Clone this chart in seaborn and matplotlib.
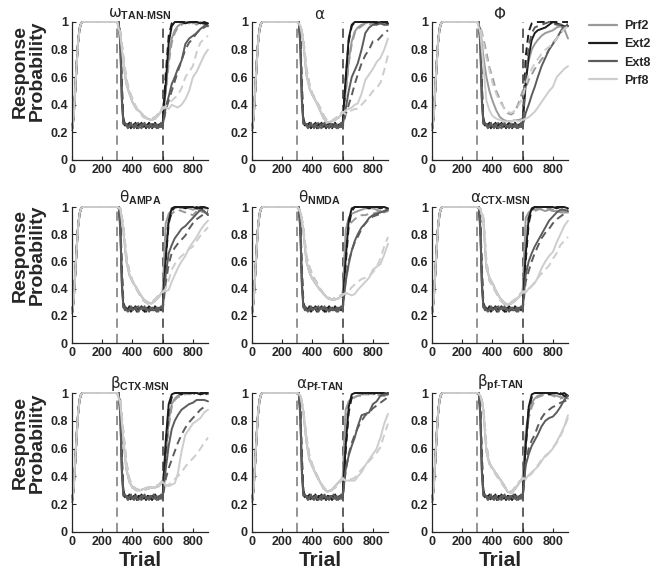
import numpy as np
import pandas as pd
import matplotlib
matplotlib.use('Agg')
import matplotlib.pyplot as plt
import seaborn as sns

# trial grids
ACQ_X = [0, 10, 20, 30, 40, 50, 60, 70, 300]
EXT_X = list(range(310, 601, 10))
PRF_EXT_X = [320, 340, 360, 380, 400, 425, 450, 475, 500, 525, 550, 575, 600]
REACQ_X = [620, 640, 660, 680, 700, 725, 750, 775, 800, 825, 850, 875, 900]

# acquisition phase (same for every curve)
ACQ_Y = [0.22, 0.3, 0.48, 0.68, 0.85, 0.95, 0.99, 1.0, 1.0]

# extinction for the Ext conditions (fast drop, flat at ~0.25)
EXT2_S_DROP = [0.99, 0.85, 0.45, 0.27, 0.25, 0.26, 0.24, 0.27, 0.25, 0.24, 0.26, 0.25, 0.23, 0.26, 0.25,
               0.27, 0.24, 0.25, 0.23, 0.26, 0.25, 0.24, 0.26, 0.25, 0.27, 0.24, 0.25, 0.26, 0.24, 0.26]
EXT2_D_DROP = [1.0, 0.9, 0.55, 0.3, 0.26, 0.24, 0.26, 0.25, 0.23, 0.26, 0.24, 0.27, 0.25, 0.24, 0.26,
               0.25, 0.26, 0.23, 0.25, 0.24, 0.27, 0.25, 0.23, 0.25, 0.24, 0.26, 0.25, 0.24, 0.26, 0.25]
EXT8_S_DROP = [0.99, 0.82, 0.42, 0.26, 0.27, 0.25, 0.23, 0.25, 0.27, 0.24, 0.25, 0.26, 0.24, 0.23, 0.25,
               0.26, 0.25, 0.27, 0.24, 0.25, 0.23, 0.26, 0.25, 0.24, 0.25, 0.26, 0.23, 0.25, 0.27, 0.25]
EXT8_D_DROP = [1.0, 0.88, 0.5, 0.28, 0.24, 0.26, 0.25, 0.24, 0.26, 0.25, 0.23, 0.25, 0.26, 0.27, 0.24,
               0.23, 0.26, 0.25, 0.26, 0.24, 0.25, 0.26, 0.24, 0.27, 0.25, 0.23, 0.26, 0.24, 0.25, 0.24]

# per panel: prf extinction (on PRF_EXT_X) and reacquisition (on REACQ_X)
omega = dict(
    prf_s=[0.9, 0.7, 0.55, 0.48, 0.42, 0.37, 0.35, 0.32, 0.3, 0.29, 0.3, 0.33, 0.37],
    prf_d=[0.93, 0.75, 0.58, 0.5, 0.44, 0.38, 0.34, 0.31, 0.3, 0.3, 0.31, 0.34, 0.38],
    Ext2_s=[0.55, 0.85, 0.97, 1.0, 1.0, 1.0, 0.99, 1.0, 1.0, 1.0, 0.99, 1.0, 0.99],
    Ext2_d=[0.62, 0.9, 0.99, 1.0, 1.0, 1.0, 1.0, 1.0, 1.0, 1.0, 1.0, 0.99, 0.98],
    Prf2_s=[0.5, 0.74, 0.88, 0.94, 0.97, 0.99, 1.0, 0.99, 1.0, 0.98, 1.0, 0.98, 0.97],
    Prf2_d=[0.48, 0.7, 0.85, 0.92, 0.96, 0.98, 1.0, 1.0, 0.99, 1.0, 0.99, 0.98, 0.99],
    Ext8_s=[0.38, 0.46, 0.55, 0.6, 0.66, 0.72, 0.84, 0.88, 0.9, 0.92, 0.95, 0.97, 0.97],
    Ext8_d=[0.36, 0.43, 0.5, 0.57, 0.64, 0.72, 0.8, 0.85, 0.88, 0.92, 0.95, 0.96, 0.98],
    Prf8_s=[0.38, 0.37, 0.4, 0.39, 0.38, 0.4, 0.44, 0.5, 0.6, 0.64, 0.7, 0.76, 0.8],
    Prf8_d=[0.39, 0.41, 0.43, 0.45, 0.47, 0.52, 0.6, 0.64, 0.68, 0.78, 0.85, 0.88, 0.9],
)
alpha = dict(
    prf_s=[0.97, 0.85, 0.62, 0.52, 0.47, 0.42, 0.36, 0.3, 0.27, 0.28, 0.29, 0.31, 0.34],
    prf_d=[0.98, 0.88, 0.66, 0.55, 0.48, 0.43, 0.38, 0.32, 0.28, 0.28, 0.3, 0.32, 0.35],
    Ext2_s=[0.6, 0.88, 0.98, 1.0, 1.0, 1.0, 1.0, 1.0, 1.0, 0.99, 1.0, 1.0, 0.99],
    Ext2_d=[0.58, 0.86, 0.97, 1.0, 1.0, 1.0, 1.0, 1.0, 1.0, 1.0, 0.99, 1.0, 1.0],
    Prf2_s=[0.5, 0.72, 0.86, 0.93, 0.96, 0.98, 0.99, 1.0, 0.99, 1.0, 0.99, 0.98, 0.99],
    Prf2_d=[0.48, 0.7, 0.84, 0.92, 0.95, 0.97, 0.99, 0.98, 1.0, 0.99, 1.0, 0.99, 0.98],
    Ext8_s=[0.37, 0.5, 0.6, 0.65, 0.7, 0.8, 0.92, 0.96, 0.98, 0.98, 0.99, 0.98, 0.98],
    Ext8_d=[0.33, 0.4, 0.47, 0.55, 0.62, 0.7, 0.76, 0.8, 0.86, 0.86, 0.89, 0.92, 0.94],
    Prf8_s=[0.36, 0.37, 0.38, 0.4, 0.41, 0.48, 0.58, 0.62, 0.66, 0.71, 0.74, 0.8, 0.88],
    Prf8_d=[0.33, 0.35, 0.36, 0.37, 0.37, 0.4, 0.43, 0.46, 0.5, 0.52, 0.56, 0.65, 0.76],
)
phi = dict(
    prf_s=[0.95, 0.75, 0.6, 0.5, 0.43, 0.36, 0.31, 0.29, 0.28, 0.28, 0.29, 0.29, 0.3],
    prf_d=[0.97, 0.88, 0.78, 0.67, 0.6, 0.5, 0.44, 0.38, 0.34, 0.33, 0.35, 0.42, 0.5],
    prf8_s=[0.92, 0.68, 0.43, 0.36, 0.32, 0.3, 0.29, 0.28, 0.28, 0.28, 0.29, 0.28, 0.29],
    prf8_d=[0.96, 0.85, 0.74, 0.65, 0.56, 0.48, 0.42, 0.38, 0.35, 0.34, 0.36, 0.4, 0.45],
    Ext2_s=[0.55, 0.75, 0.87, 0.92, 0.94, 0.95, 0.96, 0.98, 1.0, 0.99, 0.98, 0.97, 0.97],
    Ext2_d=[0.75, 0.93, 0.99, 1.0, 1.0, 1.0, 1.0, 1.0, 1.0, 1.0, 1.0, 1.0, 1.0],
    Prf2_s=[0.6, 0.72, 0.8, 0.84, 0.87, 0.9, 0.92, 0.93, 0.94, 0.96, 0.97, 0.95, 0.88],
    Prf2_d=[0.52, 0.58, 0.62, 0.66, 0.69, 0.73, 0.76, 0.8, 0.85, 0.88, 0.92, 0.95, 0.97],
    Ext8_s=[0.34, 0.4, 0.47, 0.53, 0.6, 0.68, 0.74, 0.8, 0.84, 0.88, 0.93, 0.97, 0.97],
    Ext8_d=[0.62, 0.82, 0.92, 0.96, 0.97, 0.98, 0.99, 1.0, 0.99, 0.98, 0.98, 0.99, 0.98],
    Prf8_s=[0.3, 0.31, 0.33, 0.35, 0.38, 0.42, 0.46, 0.5, 0.53, 0.6, 0.63, 0.66, 0.68],
    Prf8_d=[0.55, 0.62, 0.66, 0.7, 0.73, 0.77, 0.8, 0.82, 0.84, 0.88, 0.92, 0.95, 0.97],
)
theta_ampa = dict(
    prf_s=[0.98, 0.82, 0.6, 0.5, 0.45, 0.41, 0.36, 0.32, 0.3, 0.29, 0.31, 0.34, 0.38],
    prf_d=[0.99, 0.86, 0.64, 0.52, 0.46, 0.4, 0.35, 0.31, 0.29, 0.3, 0.32, 0.35, 0.37],
    Ext2_s=[0.62, 0.9, 0.99, 1.0, 1.0, 1.0, 1.0, 1.0, 1.0, 0.99, 1.0, 1.0, 0.99],
    Ext2_d=[0.6, 0.88, 0.97, 1.0, 1.0, 1.0, 0.99, 1.0, 1.0, 1.0, 0.99, 0.98, 0.97],
    Prf2_s=[0.88, 0.95, 0.98, 0.99, 1.0, 0.99, 1.0, 0.99, 0.98, 0.99, 0.97, 0.96, 0.95],
    Prf2_d=[0.78, 0.9, 0.95, 0.97, 0.98, 0.97, 0.96, 0.95, 0.94, 0.97, 0.98, 0.99, 0.99],
    Ext8_s=[0.5, 0.66, 0.72, 0.77, 0.8, 0.84, 0.86, 0.89, 0.92, 0.95, 0.98, 0.97, 0.94],
    Ext8_d=[0.44, 0.58, 0.66, 0.7, 0.73, 0.76, 0.79, 0.84, 0.88, 0.91, 0.93, 0.95, 0.96],
    Prf8_s=[0.38, 0.39, 0.45, 0.5, 0.55, 0.6, 0.64, 0.7, 0.74, 0.78, 0.83, 0.87, 0.9],
    Prf8_d=[0.4, 0.46, 0.54, 0.58, 0.61, 0.64, 0.66, 0.69, 0.71, 0.75, 0.79, 0.82, 0.85],
)
theta_nmda = dict(
    prf_s=[0.96, 0.82, 0.6, 0.52, 0.47, 0.43, 0.39, 0.36, 0.33, 0.32, 0.32, 0.33, 0.35],
    prf_d=[0.97, 0.85, 0.64, 0.56, 0.5, 0.45, 0.4, 0.36, 0.34, 0.32, 0.33, 0.34, 0.36],
    Ext2_s=[0.62, 0.9, 0.99, 1.0, 1.0, 1.0, 1.0, 1.0, 1.0, 1.0, 1.0, 1.0, 0.99],
    Ext2_d=[0.58, 0.86, 0.97, 1.0, 1.0, 1.0, 1.0, 0.99, 1.0, 1.0, 0.99, 1.0, 0.98],
    Prf2_s=[0.83, 0.92, 0.95, 0.96, 0.97, 0.98, 0.99, 0.99, 0.99, 0.98, 0.97, 0.96, 0.97],
    Prf2_d=[0.75, 0.86, 0.89, 0.91, 0.93, 0.94, 0.94, 0.95, 0.95, 0.96, 0.97, 0.98, 0.99],
    Ext8_s=[0.45, 0.58, 0.68, 0.75, 0.8, 0.85, 0.88, 0.92, 0.94, 0.95, 0.96, 0.97, 0.98],
    Ext8_d=[0.46, 0.6, 0.68, 0.74, 0.78, 0.84, 0.88, 0.91, 0.93, 0.94, 0.95, 0.97, 0.98],
    Prf8_s=[0.37, 0.36, 0.35, 0.36, 0.39, 0.42, 0.45, 0.48, 0.54, 0.56, 0.58, 0.65, 0.73],
    Prf8_d=[0.36, 0.38, 0.41, 0.43, 0.45, 0.47, 0.48, 0.49, 0.52, 0.56, 0.62, 0.71, 0.78],
)
alpha_ctx = dict(
    prf_s=[0.98, 0.9, 0.55, 0.48, 0.44, 0.38, 0.33, 0.3, 0.28, 0.29, 0.31, 0.34, 0.37],
    prf_d=[0.99, 0.92, 0.6, 0.46, 0.42, 0.37, 0.32, 0.29, 0.28, 0.3, 0.32, 0.35, 0.38],
    Ext2_s=[0.65, 0.92, 0.99, 1.0, 1.0, 1.0, 1.0, 1.0, 1.0, 0.99, 1.0, 1.0, 0.99],
    Ext2_d=[0.6, 0.88, 0.98, 1.0, 1.0, 1.0, 1.0, 1.0, 0.99, 1.0, 1.0, 0.99, 0.98],
    Prf2_s=[0.92, 0.96, 0.98, 0.98, 0.99, 0.98, 0.97, 0.98, 0.97, 0.97, 0.96, 0.96, 0.96],
    Prf2_d=[0.86, 0.93, 0.96, 0.97, 0.98, 0.99, 0.98, 0.99, 0.98, 0.98, 0.97, 0.97, 0.95],
    Ext8_s=[0.5, 0.6, 0.66, 0.71, 0.75, 0.8, 0.85, 0.9, 0.93, 0.96, 0.98, 0.98, 0.97],
    Ext8_d=[0.45, 0.53, 0.6, 0.66, 0.71, 0.77, 0.81, 0.84, 0.88, 0.91, 0.93, 0.95, 0.96],
    Prf8_s=[0.37, 0.4, 0.42, 0.44, 0.48, 0.55, 0.6, 0.64, 0.67, 0.74, 0.8, 0.86, 0.9],
    Prf8_d=[0.38, 0.39, 0.42, 0.45, 0.48, 0.51, 0.54, 0.57, 0.62, 0.66, 0.72, 0.75, 0.78],
)
beta_ctx = dict(
    prf_s=[0.92, 0.66, 0.45, 0.36, 0.32, 0.3, 0.3, 0.31, 0.32, 0.32, 0.32, 0.33, 0.36],
    prf_d=[0.95, 0.72, 0.5, 0.38, 0.33, 0.31, 0.3, 0.3, 0.31, 0.32, 0.33, 0.34, 0.37],
    Ext2_s=[0.65, 0.92, 0.99, 1.0, 1.0, 1.0, 1.0, 1.0, 1.0, 1.0, 0.99, 1.0, 1.0],
    Ext2_d=[0.6, 0.88, 0.97, 1.0, 1.0, 0.99, 1.0, 1.0, 1.0, 0.99, 1.0, 1.0, 0.99],
    Prf2_s=[0.55, 0.8, 0.92, 0.96, 0.98, 0.99, 1.0, 0.99, 1.0, 1.0, 0.99, 1.0, 0.99],
    Prf2_d=[0.5, 0.76, 0.9, 0.95, 0.97, 0.98, 0.99, 1.0, 0.99, 1.0, 1.0, 0.99, 1.0],
    Ext8_s=[0.45, 0.62, 0.74, 0.8, 0.84, 0.88, 0.9, 0.92, 0.93, 0.95, 0.95, 0.95, 0.94],
    Ext8_d=[0.38, 0.46, 0.52, 0.58, 0.64, 0.7, 0.75, 0.79, 0.82, 0.85, 0.88, 0.9, 0.9],
    Prf8_s=[0.34, 0.33, 0.34, 0.35, 0.42, 0.58, 0.7, 0.74, 0.78, 0.8, 0.82, 0.86, 0.88],
    Prf8_d=[0.33, 0.34, 0.36, 0.38, 0.4, 0.43, 0.47, 0.5, 0.53, 0.56, 0.6, 0.64, 0.68],
)
alpha_pf = dict(
    prf_s=[0.98, 0.86, 0.65, 0.52, 0.47, 0.41, 0.36, 0.31, 0.29, 0.3, 0.33, 0.36, 0.39],
    prf_d=[0.99, 0.88, 0.68, 0.55, 0.48, 0.42, 0.36, 0.32, 0.29, 0.3, 0.32, 0.35, 0.38],
    Ext2_s=[0.62, 0.9, 0.99, 1.0, 1.0, 1.0, 1.0, 1.0, 1.0, 1.0, 1.0, 0.99, 1.0],
    Ext2_d=[0.58, 0.86, 0.97, 1.0, 1.0, 1.0, 0.99, 1.0, 1.0, 0.99, 1.0, 1.0, 0.99],
    Prf2_s=[0.88, 0.94, 0.96, 0.97, 0.98, 0.99, 0.99, 1.0, 0.99, 1.0, 0.99, 0.98, 0.99],
    Prf2_d=[0.84, 0.92, 0.95, 0.97, 0.98, 0.98, 0.99, 0.99, 1.0, 0.99, 0.98, 0.98, 0.97],
    Ext8_s=[0.45, 0.55, 0.62, 0.68, 0.76, 0.84, 0.85, 0.86, 0.92, 0.94, 0.98, 0.99, 0.99],
    Ext8_d=[0.44, 0.56, 0.64, 0.7, 0.75, 0.8, 0.84, 0.86, 0.89, 0.91, 0.93, 0.95, 0.97],
    Prf8_s=[0.37, 0.37, 0.37, 0.37, 0.4, 0.43, 0.48, 0.52, 0.56, 0.6, 0.68, 0.78, 0.85],
    Prf8_d=[0.37, 0.38, 0.38, 0.39, 0.42, 0.45, 0.48, 0.51, 0.54, 0.57, 0.61, 0.7, 0.78],
)
beta_pf = dict(
    prf_s=[0.98, 0.88, 0.58, 0.49, 0.46, 0.42, 0.38, 0.34, 0.29, 0.28, 0.31, 0.35, 0.39],
    prf_d=[0.99, 0.9, 0.62, 0.5, 0.45, 0.41, 0.37, 0.33, 0.3, 0.29, 0.32, 0.36, 0.38],
    Ext2_s=[0.62, 0.9, 0.99, 1.0, 1.0, 1.0, 1.0, 1.0, 1.0, 1.0, 0.99, 1.0, 0.98],
    Ext2_d=[0.6, 0.88, 0.97, 1.0, 1.0, 1.0, 1.0, 0.99, 1.0, 1.0, 1.0, 0.98, 0.97],
    Prf2_s=[0.72, 0.86, 0.93, 0.96, 0.98, 0.99, 1.0, 1.0, 0.99, 0.98, 0.97, 0.97, 0.96],
    Prf2_d=[0.66, 0.82, 0.9, 0.95, 0.97, 0.98, 0.99, 0.99, 0.98, 0.97, 0.96, 0.97, 0.98],
    Ext8_s=[0.48, 0.56, 0.62, 0.66, 0.7, 0.76, 0.8, 0.82, 0.83, 0.86, 0.9, 0.95, 0.98],
    Ext8_d=[0.5, 0.6, 0.66, 0.7, 0.76, 0.82, 0.86, 0.88, 0.9, 0.91, 0.93, 0.94, 0.95],
    Prf8_s=[0.38, 0.41, 0.43, 0.45, 0.47, 0.51, 0.55, 0.57, 0.6, 0.65, 0.7, 0.76, 0.84],
    Prf8_d=[0.39, 0.4, 0.42, 0.45, 0.48, 0.52, 0.54, 0.57, 0.61, 0.64, 0.69, 0.75, 0.82],
)

panels = [omega, alpha, phi, theta_ampa, theta_nmda, alpha_ctx, beta_ctx, alpha_pf, beta_pf]
titles = [r'$\omega_{\mathbf{TAN\text{-}MSN}}$', r'$\alpha$', r'$\Phi$',
          r'$\theta_{\mathbf{AMPA}}$', r'$\theta_{\mathbf{NMDA}}$', r'$\alpha_{\mathbf{CTX\text{-}MSN}}$',
          r'$\beta_{\mathbf{CTX\text{-}MSN}}$', r'$\alpha_{\mathbf{Pf\text{-}TAN}}$', r'$\beta_{\mathbf{pf\text{-}TAN}}$']

conditions = ['Prf2', 'Ext2', 'Ext8', 'Prf8']
colors = {'Prf2': '#999999', 'Ext2': '#1c1c1c', 'Ext8': '#5c5c5c', 'Prf8': '#cdcdcd'}
ext_drops = {('Ext2', 's'): EXT2_S_DROP, ('Ext2', 'd'): EXT2_D_DROP,
             ('Ext8', 's'): EXT8_S_DROP, ('Ext8', 'd'): EXT8_D_DROP}

sns.set_style('ticks')
plt.rcParams['font.family'] = ['Liberation Sans', 'DejaVu Sans']
plt.rcParams['mathtext.fontset'] = 'custom'
plt.rcParams['mathtext.rm'] = 'DejaVu Sans'
plt.rcParams['mathtext.it'] = 'DejaVu Sans'
plt.rcParams['mathtext.bf'] = 'Liberation Sans:bold'

fig = plt.figure(figsize=(6.53, 5.74), dpi=100)
lefts = [72, 252, 432]
tops = [22, 207, 393]
bots = [160, 343, 532]
W, H = 653, 574

for i, (pan, title) in enumerate(zip(panels, titles)):
    r, c = divmod(i, 3)
    ax = fig.add_axes([lefts[c] / W, 1 - bots[r] / H, 136 / W, (bots[r] - tops[r]) / H])
    rows = []
    for cond in conditions:
        for k in ['s', 'd']:
            if cond.startswith('Ext'):
                mid_x, mid_y = EXT_X, ext_drops[(cond, k)]
            else:
                key = cond.lower() + '_' + k
                mid_x, mid_y = PRF_EXT_X, pan.get(key, pan['prf_' + k])
            xs = ACQ_X + mid_x + REACQ_X
            ys = ACQ_Y + mid_y + pan[cond + '_' + k]
            for x, y in zip(xs, ys):
                rows.append((x, y, cond, k))
    df = pd.DataFrame(rows, columns=['trial', 'p', 'cond', 'kind'])
    ax.axvline(300, color='#777777', lw=1.1, ls=(0, (6, 4)), zorder=1)
    ax.axvline(600, color='#333333', lw=1.1, ls=(0, (6, 4)), zorder=1)
    sns.lineplot(data=df, x='trial', y='p', hue='cond', style='kind', hue_order=conditions,
                 palette=colors, dashes={'s': '', 'd': (4, 2.5)}, estimator=None,
                 lw=1.4, legend=False, ax=ax, zorder=2)
    ax.set_xlim(0, 900)
    ax.set_ylim(0, 1)
    for l in ax.lines:
        l.set_clip_on(False)
    ax.set_xticks([0, 200, 400, 600, 800])
    ax.set_yticks([0, 0.2, 0.4, 0.6, 0.8, 1])
    ax.set_yticklabels(['0', '0.2', '0.4', '0.6', '0.8', '1'])
    ax.tick_params(direction='in', length=3, width=0.8, labelsize=9, pad=3)
    for lab in ax.get_xticklabels() + ax.get_yticklabels():
        lab.set_fontweight('bold')
    ax.set_xlabel('')
    ax.set_ylabel('')
    sns.despine(ax=ax)
    for s in ['left', 'bottom']:
        ax.spines[s].set_linewidth(0.9)
    ax.set_title(title, fontsize=11, pad=2)
    if c == 0:
        fig.text(0.044, 1 - ((tops[r] + bots[r]) / 2 - 20) / H, 'Response\nProbability', rotation=90,
                 ha='center', va='center', fontsize=14, fontweight='bold', linespacing=1.05)
    if r == 2:
        fig.text((lefts[c] + 68) / W, 1 - 566 / H, 'Trial', ha='center', va='baseline',
                 fontsize=15, fontweight='bold')

handles = [plt.Line2D([], [], color=colors[c], lw=1.6) for c in conditions]
fig.legend(handles, conditions, loc='upper left', bbox_to_anchor=(0.902, 0.965), frameon=False,
           prop={'weight': 'bold', 'size': 9}, handlelength=2.2, labelspacing=0.5, handletextpad=0.6,
           borderpad=0, borderaxespad=0)

fig.savefig('out.png', dpi=100)
